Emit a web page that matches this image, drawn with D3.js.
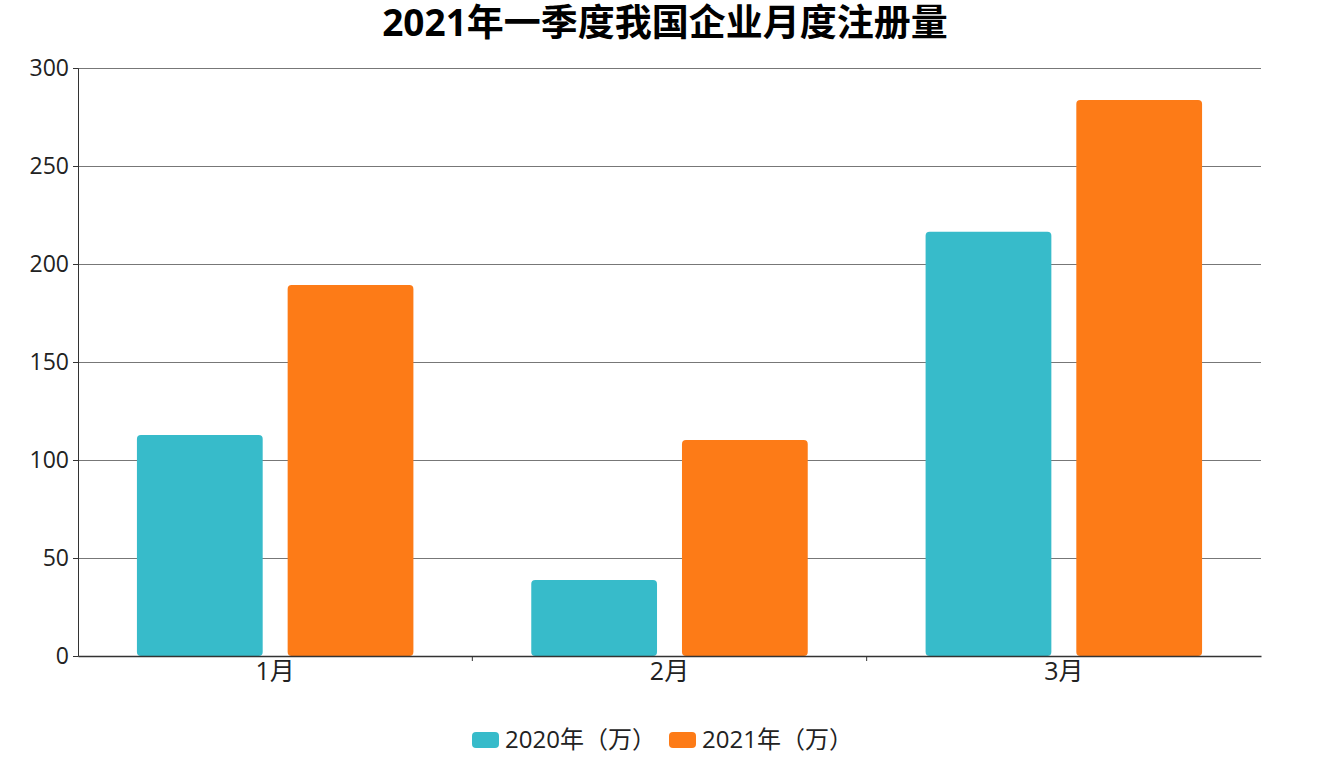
<!DOCTYPE html>
<html><head><meta charset="utf-8">
<script src="https://cdn.jsdelivr.net/npm/d3@7"></script>
<style>body{margin:0;background:#fff;font-family:"Open Sans","Noto Sans CJK SC",sans-serif;}</style>
</head><body><svg id="c" width="1329" height="757"></svg>
<script>
const title = "2021年一季度我国企业月度注册量";
const categories = ["1月","2月","3月"];
const seriesNames = ["2020年（万）","2021年（万）"];
const values2020 = [112.8, 38.8, 216.4];
const values2021 = [189.3, 110.2, 283.7];
const yTicks = [0,50,100,150,200,250,300];
const colors = ["#37BBCA","#FD7B17"];

const svg = d3.select("#c");
const m = {l:78, r:1261, t:68, b:656};
const x = d3.scaleBand().domain(categories).range([m.l, m.r]).paddingInner(0).paddingOuter(0);
const inner = d3.scaleBand().domain([0,1]).range([0, x.bandwidth()]).paddingInner(0.1656).paddingOuter(0.391);
const y = d3.scaleLinear().domain([0,300]).range([m.b, m.t]);
const font = '"Open Sans","Noto Sans CJK SC",sans-serif';

// gridlines
svg.append("g").selectAll("line").data(yTicks.slice(1)).join("line")
  .attr("x1", m.l).attr("x2", m.r).attr("y1", d=>y(d)).attr("y2", d=>y(d))
  .attr("stroke", "#777").attr("stroke-width", 1).attr("shape-rendering","crispEdges");

// y axis
const ya = svg.append("g").attr("transform", `translate(${m.l},0)`)
  .call(d3.axisLeft(y).tickValues(yTicks).tickSize(5).tickPadding(4));
ya.select(".domain").attr("stroke","#333");
ya.selectAll(".tick line").attr("stroke","#333");
ya.selectAll("text").attr("font-size", 23).attr("font-family", font).attr("fill","#222");

// bars
const series = [values2020, values2021];
series.forEach((vals, si) => {
  svg.append("g").selectAll("path").data(vals).join("path")
    .attr("fill", colors[si])
    .attr("d", (v,i) => {
      const x0 = x(categories[i]) + inner(si), w = inner.bandwidth();
      const y0 = y(v), h = y(0) - y(v), r = 4;
      return `M${x0},${y0+h-r}V${y0+r}Q${x0},${y0} ${x0+r},${y0}H${x0+w-r}Q${x0+w},${y0} ${x0+w},${y0+r}V${y0+h-r}Q${x0+w},${y0+h} ${x0+w-r},${y0+h}H${x0+r}Q${x0},${y0+h} ${x0},${y0+h-r}Z`;
    });
});

// x axis
const xa = svg.append("g").attr("transform", `translate(0,${m.b})`)
  .call(d3.axisBottom(x).tickSize(0).tickPadding(6));
xa.select(".domain").attr("stroke","#333").attr("stroke-width",1.5);
xa.selectAll("text").attr("font-size", 25).attr("font-family", font).attr("fill","#222");
svg.append("g").selectAll("line").data(categories.slice(1)).join("line")
  .attr("x1", d=>x(d)).attr("x2", d=>x(d)).attr("y1", m.b).attr("y2", m.b+5)
  .attr("stroke","#333");

// title
svg.append("text").attr("x", 665).attr("y", 36).attr("text-anchor","middle")
  .attr("font-size", 37).attr("font-weight","bold").attr("font-family", font).attr("fill","#000").text(title);

// legend
const leg = svg.append("g");
const legX = [472, 669];
seriesNames.forEach((n,i) => {
  leg.append("rect").attr("x", legX[i]).attr("y", 732).attr("width", 27).attr("height", 16).attr("rx", 4).attr("fill", colors[i]);
  leg.append("text").attr("x", legX[i]+33).attr("y", 748).attr("font-size", 24).attr("font-family", font).attr("fill","#222").text(n);
});
</script></body></html>
